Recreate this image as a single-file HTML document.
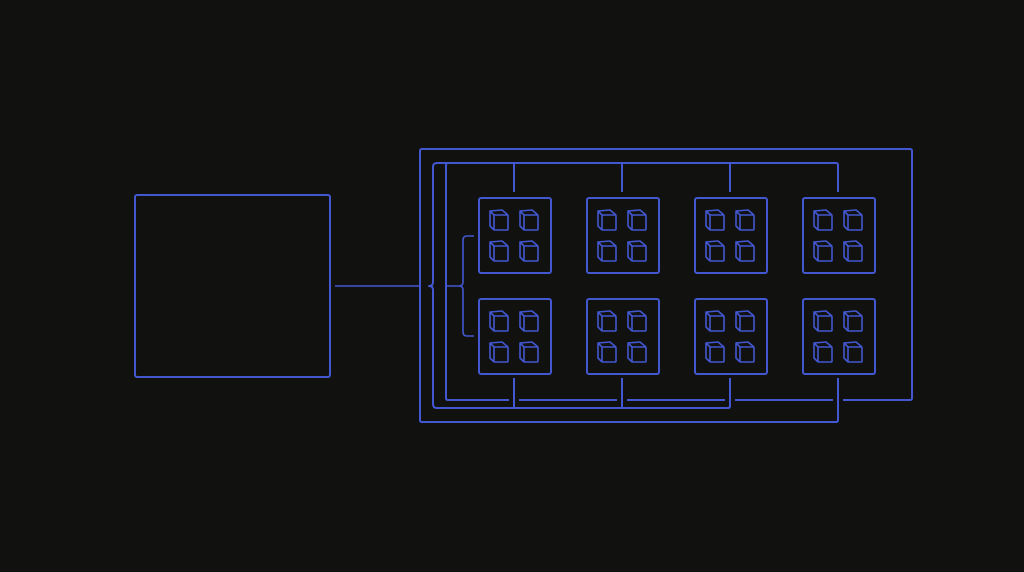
<!DOCTYPE html>
<html><head><style>html,body{margin:0;padding:0;background:#111210;}svg{display:block}</style></head>
<body>
<svg width="1024" height="572" viewBox="0 0 1024 572" xmlns="http://www.w3.org/2000/svg">
<defs>
<g id="cube" fill="none" stroke="#4257d0" stroke-width="1.6" stroke-linejoin="round">
<rect x="4" y="5" width="14" height="15" rx="1"/>
<path d="M4 5 L0 1 L12 0 L18 5 M0 1 L0 16 L4 20"/>
</g>
<g id="node">
<rect x="0" y="0" width="72" height="75" rx="2" fill="none" stroke="#4257d0" stroke-width="2"/>
<use href="#cube" x="11" y="12"/><use href="#cube" x="41" y="12"/>
<use href="#cube" x="11" y="43"/><use href="#cube" x="41" y="43"/>
</g>
</defs>
<rect width="1024" height="572" fill="#111210"/>
<g fill="none" stroke="#4257d0" stroke-width="2" stroke-linejoin="round">
<rect x="135" y="195" width="195" height="182" rx="2"/>
<path d="M335 286 H420" stroke-width="1.6"/>
<path d="M838 378 V420 Q838 422 836 422 H422 Q420 422 420 420 V151 Q420 149 422 149 H910 Q912 149 912 151 V398 Q912 400 910 400 H843"/>
<path d="M833 400 H735 M725 400 H627 M617 400 H519 M509 400 H448 Q446 400 446 398 V165 Q446 163 448 163"/>
<path d="M437 163 H836 Q838 163 838 165 V192 M514 163 V192 M622 163 V192 M730 163 V192"/>
<path d="M437 163 Q433 163 433 167 V282 Q433 286 429 286 Q433 286 433 290 V404 Q433 408 437 408 H728 Q730 408 730 406 V378 M514 378 V408 M622 378 V408"/>
<path d="M446 286 H459 Q463 286 463 282 V240 Q463 236 467 236 H474 M459 286 Q463 286 463 290 V332 Q463 336 467 336 H474" stroke-width="1.6"/>
</g>
<use href="#node" x="479" y="198"/><use href="#node" x="587" y="198"/><use href="#node" x="695" y="198"/><use href="#node" x="803" y="198"/>
<use href="#node" x="479" y="299"/><use href="#node" x="587" y="299"/><use href="#node" x="695" y="299"/><use href="#node" x="803" y="299"/>
</svg>
</body></html>
